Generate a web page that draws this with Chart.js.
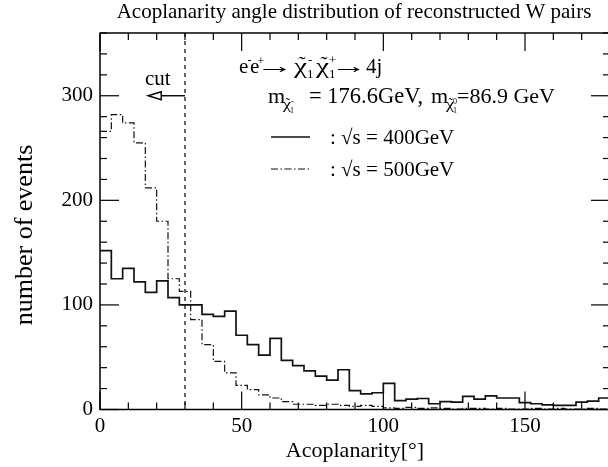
<!DOCTYPE html>
<html><head><meta charset="utf-8">
<script src="https://cdn.jsdelivr.net/npm/chart.js@4/dist/chart.umd.min.js"></script>
<style>
html,body{margin:0;padding:0;overflow:hidden;background:#fff;width:608px;height:467px}
#wrap{position:relative;width:614px;height:467px}
</style></head><body><div id="wrap"><canvas id="c" width="614" height="467"></canvas></div>
<script>
// Bin edges (degrees), 4-degree bins
const binEdges = [0,4,8,12,16,20,24,28,32,36,40,44,48,52,56,60,64,68,72,76,80,84,88,92,96,100,104,108,112,116,120,124,128,132,136,140,144,148,152,156,160,164,168,172,176,180];
// sqrt(s) = 400 GeV (solid)
const events400 = [152,125,135,122,112,123,107,100,100,91,89,94,71,62,52,68,47,42,37,32,28,38,18,15,16,25,8.5,10,10.5,5.5,7.5,7,12.5,10,13,11,11,6.5,5.5,4.5,4,4,7,8,11];
// sqrt(s) = 500 GeV (dash-dot)
const events500 = [266,282,274,255,212,180,125,113,86,62,46,35,23,19,14,11,7.5,5,5,4,5,4,3,4,3,1.5,1,2,1,1.5,1,0.5,1,1,0.5,1,0.5,0.5,1,0.5,1,0.5,0.5,1,0.5];
const xTickLabels = [0,50,100,150];
const yTickLabels = [0,100,200,300];
const cutValue = 30;

const serif = '"Liberation Serif","DejaVu Serif",serif';
function steps(vals){
  return binEdges.map((e,i)=>({x:e, y: i<vals.length ? vals[i] : vals[vals.length-1]}));
}

const deco = {
  id:'deco',
  afterDatasetsDraw(chart){
    const {ctx, chartArea:a, scales:{x,y}} = chart;
    const line=(x1,y1,x2,y2)=>{ctx.beginPath();ctx.moveTo(x1,y1);ctx.lineTo(x2,y2);ctx.stroke();};
    ctx.save();
    ctx.strokeStyle='#000'; ctx.fillStyle='#000';
    // frame
    ctx.lineWidth=1.5;
    ctx.strokeRect(a.left,a.top,a.right-a.left,a.bottom-a.top);
    // ticks inward on all sides
    ctx.lineWidth=1.2;
    for(let v=0; v<=180; v+=10){
      const px=x.getPixelForValue(v);
      const len = xTickLabels.includes(v) ? 18 : 7;
      line(px,a.bottom,px,a.bottom-len); line(px,a.top,px,a.top+len);
    }
    for(let v=0; v<=360; v+=20){
      const py=y.getPixelForValue(v);
      const len = yTickLabels.includes(v) ? 19 : 7;
      line(a.left,py,a.left+len,py); line(a.right,py,a.right-len,py);
    }
    // cut line
    ctx.setLineDash([4,4]); ctx.lineWidth=1.2;
    const cx=x.getPixelForValue(cutValue);
    line(cx,a.top,cx,a.bottom);
    ctx.setLineDash([]);
    // arrow
    const ay=y.getPixelForValue(300);
    const tip=x.getPixelForValue(17), base=x.getPixelForValue(21.6);
    ctx.lineWidth=1.4;
    line(cx,ay,base,ay);
    ctx.beginPath(); ctx.moveTo(tip,ay); ctx.lineTo(base,ay-4); ctx.lineTo(base,ay+4); ctx.closePath(); ctx.stroke();
    ctx.font='21px '+serif; ctx.textAlign='center'; ctx.textBaseline='alphabetic';
    ctx.fillText('cut', x.getPixelForValue(20.4), 85);

    ctx.textAlign='left';
    // text piece at absolute x; optional target width (horizontal stretch) and tilde
    function put(t,px,py,size,opt={}){
      ctx.font=size+'px '+serif;
      const w0=ctx.measureText(t).width;
      const sx = opt.w ? opt.w/w0 : 1;
      ctx.save(); ctx.translate(px,py); ctx.scale(sx,1); ctx.fillText(t,0,0); ctx.restore();
      if(opt.tilde){
        const tw=ctx.measureText('\u02DC').width;
        ctx.fillText('\u02DC',px+(w0*sx-tw)/2+size*0.06,py-size*0.08);
      }
    }
    // line 1: e-e+ -> chi chi -> 4j
    const b1=73;
    put('e',239,b1,21); put('-',247.5,b1-9,12);
    put('e',250,b1,21); put('+',257.5,b1-8,12);
    put('\u2192',256,b1,21,{w:38});
    put('\u03C7',294,b1,22,{tilde:true,w:13}); put('1',307,b1+5,13); put('-',308,b1-9,13);
    put('\u03C7',316,b1,22,{tilde:true,w:13}); put('1',329,b1+5,13); put('+',329,b1-9,13);
    put('\u2192',331,b1,21,{w:36});
    put('4j',366,b1,21);
    // line 2: masses
    const b2=103;
    put('m',268,b2,22);
    put('\u03C7',283,b2+6,14,{tilde:true,w:8}); put('1',290,b2+10,8); put('-',291,b2+1,9);
    put('= 176.6GeV,',309,b2,22.5);
    put('m',431,b2,22);
    put('\u03C7',446,b2+6,14,{tilde:true,w:8}); put('1',453,b2+10,8); put('0',453,b2+1,8);
    put('=86.9 GeV',457,b2,22);
    // legend
    ctx.lineWidth=1.6; ctx.strokeStyle='#111';
    line(271,137,310,137);
    ctx.setLineDash([7,2.5,1.5,2.5]); ctx.lineWidth=1.2;
    line(271,169,310,169);
    ctx.setLineDash([]);
    put(': \u221As = 400GeV',330,144,21);
    put(': \u221As = 500GeV',330,176,21);
    // title
    ctx.font='21px '+serif; ctx.textAlign='center';
    ctx.fillText('Acoplanarity angle distribution of reconstructed W pairs',354,18);
    // y axis title
    ctx.save(); ctx.translate(32,235); ctx.rotate(-Math.PI/2);
    ctx.font='26px '+serif; ctx.textAlign='center';
    ctx.fillText('number of events',0,0);
    ctx.restore();
    ctx.restore();
  }
};

new Chart(document.getElementById('c'),{
  type:'line',
  data:{datasets:[
    {label:'\u221As = 400GeV',data:steps(events400),stepped:'before',borderColor:'#111',borderWidth:1.7,pointRadius:0,fill:false},
    {label:'\u221As = 500GeV',data:steps(events500),stepped:'before',borderColor:'#111',borderWidth:1.2,borderDash:[7,2.5,1.5,2.5],pointRadius:0,fill:false}
  ]},
  plugins:[deco],
  options:{
    responsive:false, animation:false, devicePixelRatio:1,
    layout:{padding:{top:33,right:1,left:0,bottom:0}},
    plugins:{legend:{display:false},title:{display:false},tooltip:{enabled:false}},
    scales:{
      x:{type:'linear',min:0,max:180,
        grid:{display:false,drawTicks:false},border:{display:false},
        ticks:{stepSize:10,autoSkip:false,maxRotation:0,padding:4,color:'#000',font:{family:serif,size:21},
          callback:v=>xTickLabels.includes(v)?String(v):''},
        title:{display:true,text:'Acoplanarity[\u00B0]',color:'#000',font:{family:serif,size:22},padding:{top:0,bottom:3}},
        afterFit:s=>{s.height=57.5;}
      },
      y:{type:'linear',min:0,max:360,
        grid:{display:false,drawTicks:false},border:{display:false},
        ticks:{stepSize:20,autoSkip:false,padding:7,color:'#000',font:{family:serif,size:21},
          callback:v=>yTickLabels.includes(v)?String(v):''},
        title:{display:false},
        afterFit:s=>{s.width=100;}
      }
    }
  }
});
</script></body></html>
